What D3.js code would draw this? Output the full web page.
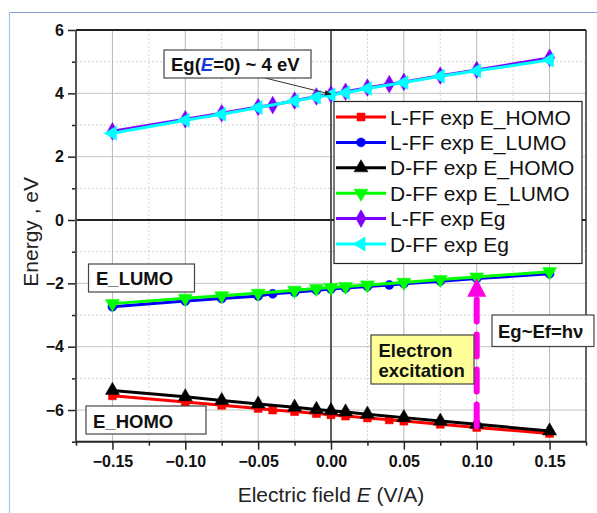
<!DOCTYPE html>
<html><head><meta charset="utf-8">
<script src="https://cdn.jsdelivr.net/npm/d3@7"></script>
<style>body{margin:0;background:#fff;}svg{display:block;font-family:"Liberation Sans",Arial,sans-serif;}</style>
</head><body><svg id="c" width="597" height="513"></svg>
<script>
const xLFF = [-0.15,-0.10,-0.075,-0.05,-0.04,-0.025,-0.01,0,0.01,0.025,0.04,0.05,0.075,0.10,0.15];
const xDFF = [-0.15,-0.10,-0.075,-0.05,-0.025,-0.01,0,0.01,0.025,0.05,0.075,0.10,0.15];
const lffHomo = [-5.55,-5.75,-5.85,-5.95,-6.00,-6.05,-6.11,-6.15,-6.19,-6.25,-6.31,-6.35,-6.45,-6.55,-6.74];
const lffLumo = [-2.74,-2.56,-2.48,-2.40,-2.33,-2.28,-2.22,-2.18,-2.15,-2.10,-2.05,-2.01,-1.93,-1.85,-1.70];
const dffHomo = [-5.38,-5.58,-5.70,-5.81,-5.91,-5.98,-6.02,-6.06,-6.13,-6.24,-6.35,-6.45,-6.66];
const dffLumo = [-2.64,-2.47,-2.39,-2.31,-2.22,-2.16,-2.13,-2.10,-2.05,-1.97,-1.88,-1.80,-1.63];
const lffEg = [2.80,3.18,3.37,3.57,3.63,3.77,3.90,3.97,4.05,4.18,4.29,4.36,4.56,4.74,5.12];
const dffEg = [2.74,3.15,3.34,3.55,3.76,3.88,3.95,4.02,4.15,4.34,4.54,4.71,5.05];
const seriesNames = ["L-FF exp E_HOMO","L-FF exp E_LUMO","D-FF exp E_HOMO","D-FF exp E_LUMO","L-FF exp Eg","D-FF exp Eg"];
const xTicks = [-0.15,-0.10,-0.05,0.00,0.05,0.10,0.15];
const yTicks = [-6,-4,-2,0,2,4,6];

const series = [
  {name:seriesNames[0], xs:xLFF, ys:lffHomo, color:"#ff0000", sym:"square"},
  {name:seriesNames[1], xs:xLFF, ys:lffLumo, color:"#0000ff", sym:"circle"},
  {name:seriesNames[2], xs:xDFF, ys:dffHomo, color:"#000000", sym:"up"},
  {name:seriesNames[3], xs:xDFF, ys:dffLumo, color:"#00ff00", sym:"down"},
  {name:seriesNames[4], xs:xLFF, ys:lffEg, color:"#8000ff", sym:"diamond"},
  {name:seriesNames[5], xs:xDFF, ys:dffEg, color:"#00ffff", sym:"left"}
];

const svg = d3.select("#c");
const L=76, R=586, T=30, B=441.7;
const x = d3.scaleLinear().domain([-0.175,0.175]).range([L,R]);
const y = d3.scaleLinear().domain([-7,6]).range([B,T]);

// outer frame
svg.append("line").attr("x1",9.5).attr("x2",597).attr("y1",12.5).attr("y2",12.5).attr("stroke","#7da2d6").attr("stroke-width",1.2);
svg.append("line").attr("x1",9.5).attr("x2",9.5).attr("y1",12.5).attr("y2",513).attr("stroke","#a9c3e6").attr("stroke-width",1.2);

// grid
const g = svg.append("g");
const minorX = d3.range(-0.175,0.176,0.05).map(v=>+v.toFixed(3));
const minorY = [-7,-5,-3,-1,1,3,5];
g.selectAll(".mgx").data(minorX).join("line").attr("x1",d=>x(d)).attr("x2",d=>x(d)).attr("y1",T).attr("y2",B)
  .attr("stroke","#d4d4d4").attr("stroke-width",1).attr("stroke-dasharray","2,2");
g.selectAll(".mgy").data(minorY.filter(v=>v>-7)).join("line").attr("x1",L).attr("x2",R).attr("y1",d=>y(d)).attr("y2",d=>y(d))
  .attr("stroke","#d4d4d4").attr("stroke-width",1).attr("stroke-dasharray","2,2");
g.selectAll(".gx").data(xTicks).join("line").attr("x1",d=>x(d)).attr("x2",d=>x(d)).attr("y1",T).attr("y2",B)
  .attr("stroke","#b8b8b8").attr("stroke-width",1);
g.selectAll(".gy").data(yTicks).join("line").attr("x1",L).attr("x2",R).attr("y1",d=>y(d)).attr("y2",d=>y(d))
  .attr("stroke","#c4c4c4").attr("stroke-width",1);

// zero lines
svg.append("line").attr("x1",L).attr("x2",R).attr("y1",y(0)).attr("y2",y(0)).attr("stroke","#222").attr("stroke-width",2);
svg.append("line").attr("x1",x(0)).attr("x2",x(0)).attr("y1",T).attr("y2",B).attr("stroke","#333").attr("stroke-width",1.5);

// axes
const xAxis = d3.axisBottom(x).tickValues(xTicks).tickFormat(d3.format(".2f")).tickSize(8).tickPadding(6);
const yAxis = d3.axisLeft(y).tickValues(yTicks).tickFormat(d3.format("d")).tickSize(8).tickPadding(4);
const xa = svg.append("g").attr("transform",`translate(0,${B})`).call(xAxis);
const ya = svg.append("g").attr("transform",`translate(${L},0)`).call(yAxis);
svg.append("g").attr("transform",`translate(0,${B})`).call(d3.axisBottom(x).tickValues(minorX).tickSize(4).tickFormat(""));
svg.append("g").attr("transform",`translate(${L},0)`).call(d3.axisLeft(y).tickValues(minorY).tickSize(4).tickFormat(""));
svg.selectAll(".domain").remove();
svg.selectAll(".tick line").attr("stroke","#222").attr("stroke-width",1.5);
[xa,ya].forEach(a=>a.selectAll("text").attr("font-size",16).attr("font-weight","bold").attr("fill","#111"));
// axis frame lines
svg.append("line").attr("x1",L).attr("x2",L).attr("y1",T).attr("y2",B).attr("stroke","#555").attr("stroke-width",2);
svg.append("line").attr("x1",L).attr("x2",R).attr("y1",B).attr("y2",B).attr("stroke","#222").attr("stroke-width",2);
svg.append("line").attr("x1",L).attr("x2",R).attr("y1",T).attr("y2",T).attr("stroke","#222").attr("stroke-width",2);
svg.append("line").attr("x1",R).attr("x2",R).attr("y1",T).attr("y2",B).attr("stroke","#333").attr("stroke-width",1.5);

// axis titles
svg.append("text").attr("transform",`translate(38,${(T+B)/2 - 4}) rotate(-90)`).attr("text-anchor","middle")
  .attr("font-size",21).attr("fill","#222").text("Energy , eV");
const xt = svg.append("text").attr("x",(L+R)/2).attr("y",502).attr("text-anchor","middle").attr("font-size",21).attr("fill","#222");
xt.append("tspan").text("Electric field ");
xt.append("tspan").attr("font-style","italic").text("E");
xt.append("tspan").text(" (V/A)");

function marker(sel, sym, color){
  const map = {square:d3.symbolSquare, circle:d3.symbolCircle, up:d3.symbolTriangle, down:d3.symbolTriangle, diamond:d3.symbolDiamond, left:d3.symbolTriangle};
  const size = {square:64, circle:64, up:85, down:85, diamond:90, left:85}[sym];
  const rot = {up:0, down:180, left:-90}[sym] || 0;
  sel.append("path").attr("d", d3.symbol().type(map[sym]).size(size)())
    .attr("transform", `rotate(${rot})`)
    .attr("fill",color).attr("stroke",color).attr("stroke-width",0.5);
}

const line = d3.line().x(d=>x(d[0])).y(d=>y(d[1]));
series.forEach(s=>{
  const pts = s.xs.map((v,i)=>[v,s.ys[i]]);
  svg.append("path").datum(pts).attr("d",line).attr("fill","none").attr("stroke",s.color).attr("stroke-width",3);
  const gm = svg.append("g");
  pts.forEach(p=>{
    const m = gm.append("g").attr("transform",`translate(${x(p[0])},${y(p[1])})`);
    marker(m, s.sym, s.color);
  });
});

// legend
const lg = svg.append("g");
lg.append("rect").attr("x",334).attr("y",101.5).attr("width",248).attr("height",162).attr("fill","#fff").attr("stroke","#222").attr("stroke-width",1.2);
series.forEach((s,i)=>{
  const yy = 117 + i*25.4;
  lg.append("line").attr("x1",336).attr("x2",386).attr("y1",yy).attr("y2",yy).attr("stroke",s.color).attr("stroke-width",3);
  const m = lg.append("g").attr("transform",`translate(361,${yy})`);
  marker(m, s.sym, s.color);
  lg.append("text").attr("x",390).attr("y",yy+7.5).attr("font-size",21).attr("fill","#111").text(s.name);
});

function box(x0,y0,w,h,fill){
  svg.append("rect").attr("x",x0).attr("y",y0).attr("width",w).attr("height",h).attr("fill",fill||"#fff").attr("stroke","#444").attr("stroke-width",1.2);
}
svg.append("defs").html('<marker id="ah" viewBox="0 0 10 10" refX="9" refY="5" markerWidth="7" markerHeight="7" orient="auto"><path d="M0,1 L10,5 L0,9 z" fill="#222"/></marker>');
svg.append("line").attr("x1",265).attr("y1",78).attr("x2",x(0)).attr("y2",y(3.97)).attr("stroke","#333").attr("stroke-width",1).attr("marker-end","url(#ah)");
box(164,50,147,28);
const t1 = svg.append("text").attr("x",171).attr("y",71).attr("font-size",18.5).attr("font-weight","bold").attr("fill","#111");
t1.append("tspan").text("Eg(");
t1.append("tspan").attr("font-style","italic").attr("fill","#1a3ae0").text("E");
t1.append("tspan").text("=0) ~ 4 eV");

box(88.5,264,106,28);
svg.append("text").attr("x",96).attr("y",285).attr("font-size",18.5).attr("font-weight","bold").attr("fill","#111").text("E_LUMO");
box(86,406,120,28);
svg.append("text").attr("x",93).attr("y",427.5).attr("font-size",18.5).attr("font-weight","bold").attr("fill","#111").text("E_HOMO");

const ax = x(0.10);
svg.append("line").attr("x1",ax).attr("x2",ax).attr("y1",y(-6.52)).attr("y2",y(-2.45))
  .attr("stroke","#ff00e6").attr("stroke-width",6).attr("stroke-dasharray","22,13").attr("stroke-linecap","round");
svg.append("path").attr("d",`M${ax},${y(-1.84)} L${ax+9.5},${y(-2.42)} L${ax-9.5},${y(-2.42)} Z`).attr("fill","#ff00e6");

box(371,335,103,49,"#ffff99");
svg.append("text").attr("x",378.5).attr("y",356.5).attr("font-size",18.5).attr("font-weight","bold").attr("fill","#111").text("Electron");
svg.append("text").attr("x",378.5).attr("y",377).attr("font-size",18.5).attr("font-weight","bold").attr("fill","#111").text("excitation");

box(492,315,102,31.5);
svg.append("text").attr("x",498).attr("y",337.5).attr("font-size",18.5).attr("font-weight","bold").attr("fill","#111").text("Eg~Ef=hν");
</script></body></html>
